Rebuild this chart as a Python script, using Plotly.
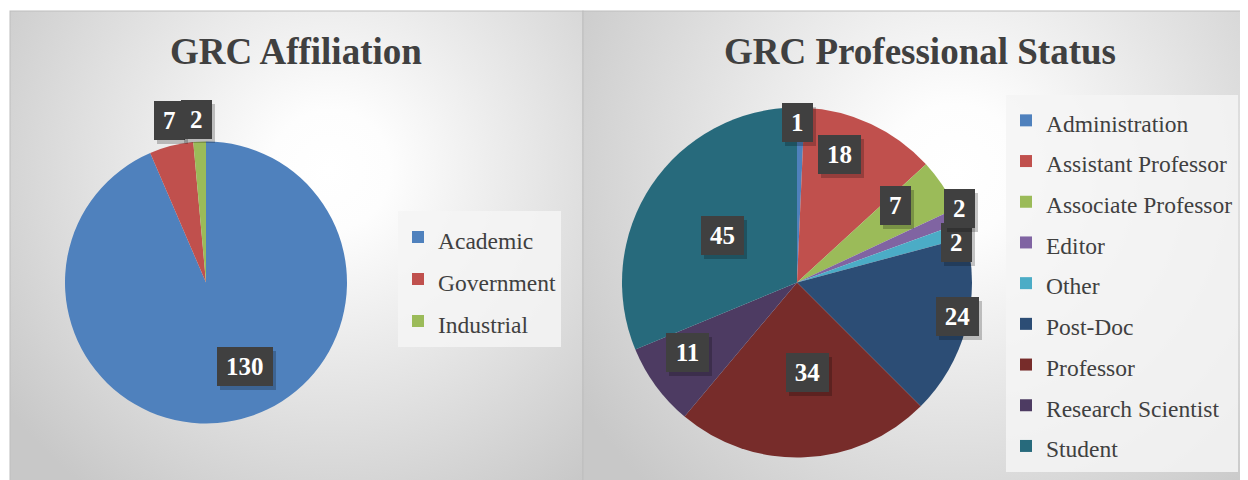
import math
import base64
import plotly.graph_objects as go

# page has an 8px body margin, so the figure starts at (8, 8) in the screenshot
OX, OY = 8, 8
W, H = 1240, 472

# ---------------- data ----------------
aff_labels = ["Academic", "Government", "Industrial"]
aff_values = [130, 7, 2]

status_labels = ["Administration", "Assistant Professor", "Associate Professor", "Editor",
                 "Other", "Post-Doc", "Professor", "Research Scientist", "Student"]
status_values = [1, 18, 7, 2, 2, 24, 34, 11, 45]

titles = ["GRC Affiliation", "GRC Professional Status"]

# ---------------- style ----------------
aff_colors = ["#4F81BD", "#C0504D", "#9BBB59"]
status_colors = ["#4F81BD", "#C0504D", "#9BBB59", "#8064A2", "#4BACC6",
                 "#2C4D75", "#772C2A", "#4D3B62", "#276A7C"]
# data-label placement ("best fit" look): radius fraction and angular nudge (deg)
aff_label_r = [0.656, 1.18, 1.16]
aff_label_da = [-13.2, 1.4, -0.9]
status_label_r = [0.914, 0.77, 0.714, 1.02, 0.943, 0.94, 0.515, 0.744, 0.50]
status_label_da = [-0.9, -6.8, -4.2, -2.1, 3.3, -2.9, -3.9, 3.9, -1.6]

FONT = "Liberation Serif, Times New Roman, serif"
TXT = "#404040"

left_c, left_R = (206, 282.5), 141
right_c, right_R = (797, 282.5), 175


def px(sx):
    return (sx - OX) / W


def py(sy):
    return 1 - (sy - OY) / H


def domain(c, R):
    cx, cy = c
    return dict(x=[px(cx - R), px(cx + R)], y=[py(cy + R), py(cy - R)])


def legend_text(labels):
    return ['<span style="font-size:23.5px">%s</span>' % l for l in labels]


fig = go.Figure()
fig.add_trace(go.Pie(
    labels=legend_text(aff_labels), values=aff_values, sort=False, direction="clockwise",
    rotation=0, marker=dict(colors=aff_colors, line=dict(width=0)), textinfo="none",
    domain=domain(left_c, left_R), legend="legend", hoverinfo="label+value"))
fig.add_trace(go.Pie(
    labels=legend_text(status_labels), values=status_values, sort=False, direction="clockwise",
    rotation=0, marker=dict(colors=status_colors, line=dict(width=0)), textinfo="none",
    domain=domain(right_c, right_R), legend="legend2", hoverinfo="label+value"))

annotations = []


def add_labels(values, c, R, rfrac, dang, reverse=False):
    total = float(sum(values))
    cum = 0.0
    cx, cy = c
    items = []
    for v, f, da in zip(values, rfrac, dang):
        mid = (cum + v / 2.0) / total * 2 * math.pi + math.radians(da)
        cum += v
        sx = cx + f * R * math.sin(mid)
        sy = cy - f * R * math.cos(mid)
        items.append((v, sx, sy))
    if reverse:
        items = items[::-1]
    for v, sx, sy in items:
        txt = "<b>%d</b>" % v
        w = 12.5 * len(str(v)) + 18
        common = dict(x=px(sx), y=py(sy), xref="paper", yref="paper", xanchor="center",
                      yanchor="middle", showarrow=False, width=w, height=39, borderpad=0,
                      borderwidth=0, align="center", valign="middle")
        annotations.append(dict(text=txt, bgcolor="rgba(0,0,0,0.22)", xshift=3, yshift=-4,
                                font=dict(family=FONT, size=25, color="rgba(0,0,0,0)"), **common))
        annotations.append(dict(text=txt, bgcolor="#404040",
                                font=dict(family=FONT, size=25, color="#ffffff"), **common))


add_labels(aff_values, left_c, left_R, aff_label_r, aff_label_da)
add_labels(status_values, right_c, right_R, status_label_r, status_label_da, reverse=True)

for t, xc in zip(titles, [296, 920]):
    annotations.append(dict(text="<b>%s</b>" % t, x=px(xc), y=py(52), xref="paper", yref="paper",
                            xanchor="center", yanchor="middle", showarrow=False,
                            font=dict(family=FONT, size=37, color=TXT)))

# background panels with radial gradients (figure pixel coords)
svg = f'''<svg xmlns="http://www.w3.org/2000/svg" width="{W}" height="{H}" viewBox="0 0 {W} {H}">
<defs>
<radialGradient id="g1" gradientUnits="userSpaceOnUse" cx="{330-OX}" cy="{170-OY}" r="400">
<stop offset="0" stop-color="#ffffff"/><stop offset="0.15" stop-color="#fdfdfd"/><stop offset="1" stop-color="#c8c8c8"/>
</radialGradient>
<radialGradient id="g2" gradientUnits="userSpaceOnUse" cx="{955-OX}" cy="{170-OY}" r="440">
<stop offset="0" stop-color="#ffffff"/><stop offset="0.15" stop-color="#fdfdfd"/><stop offset="1" stop-color="#c8c8c8"/>
</radialGradient>
</defs>
<rect x="0" y="0" width="{W}" height="{H}" fill="#ffffff"/>
<rect x="{10-OX}" y="{11-OY}" width="573" height="{H}" fill="url(#g1)" stroke="#bdbdbd" stroke-width="1"/>
<rect x="{583-OX}" y="{11-OY}" width="{W}" height="{H}" fill="url(#g2)" stroke="#bdbdbd" stroke-width="1"/>
</svg>'''
src = "data:image/svg+xml;base64," + base64.b64encode(svg.encode()).decode()

fig.update_layout(
    width=W, height=H, autosize=False,
    margin=dict(l=0, r=0, t=0, b=0),
    paper_bgcolor="#ffffff", plot_bgcolor="rgba(0,0,0,0)",
    images=[dict(source=src, xref="paper", yref="paper", x=0, y=1, sizex=1, sizey=1,
                 xanchor="left", yanchor="top", sizing="stretch", layer="below")],
    annotations=annotations,
    showlegend=True,
    legend=dict(x=px(398), y=py(211), xanchor="left", yanchor="top",
                bgcolor="rgba(244,244,244,0.85)", borderwidth=0,
                font=dict(family=FONT, size=30, color=TXT)),
    legend2=dict(x=px(1006), y=py(95), xanchor="left", yanchor="top",
                 bgcolor="rgba(244,244,244,0.85)", borderwidth=0,
                 font=dict(family=FONT, size=29, color=TXT)),
)

fig.write_html("out.html")
